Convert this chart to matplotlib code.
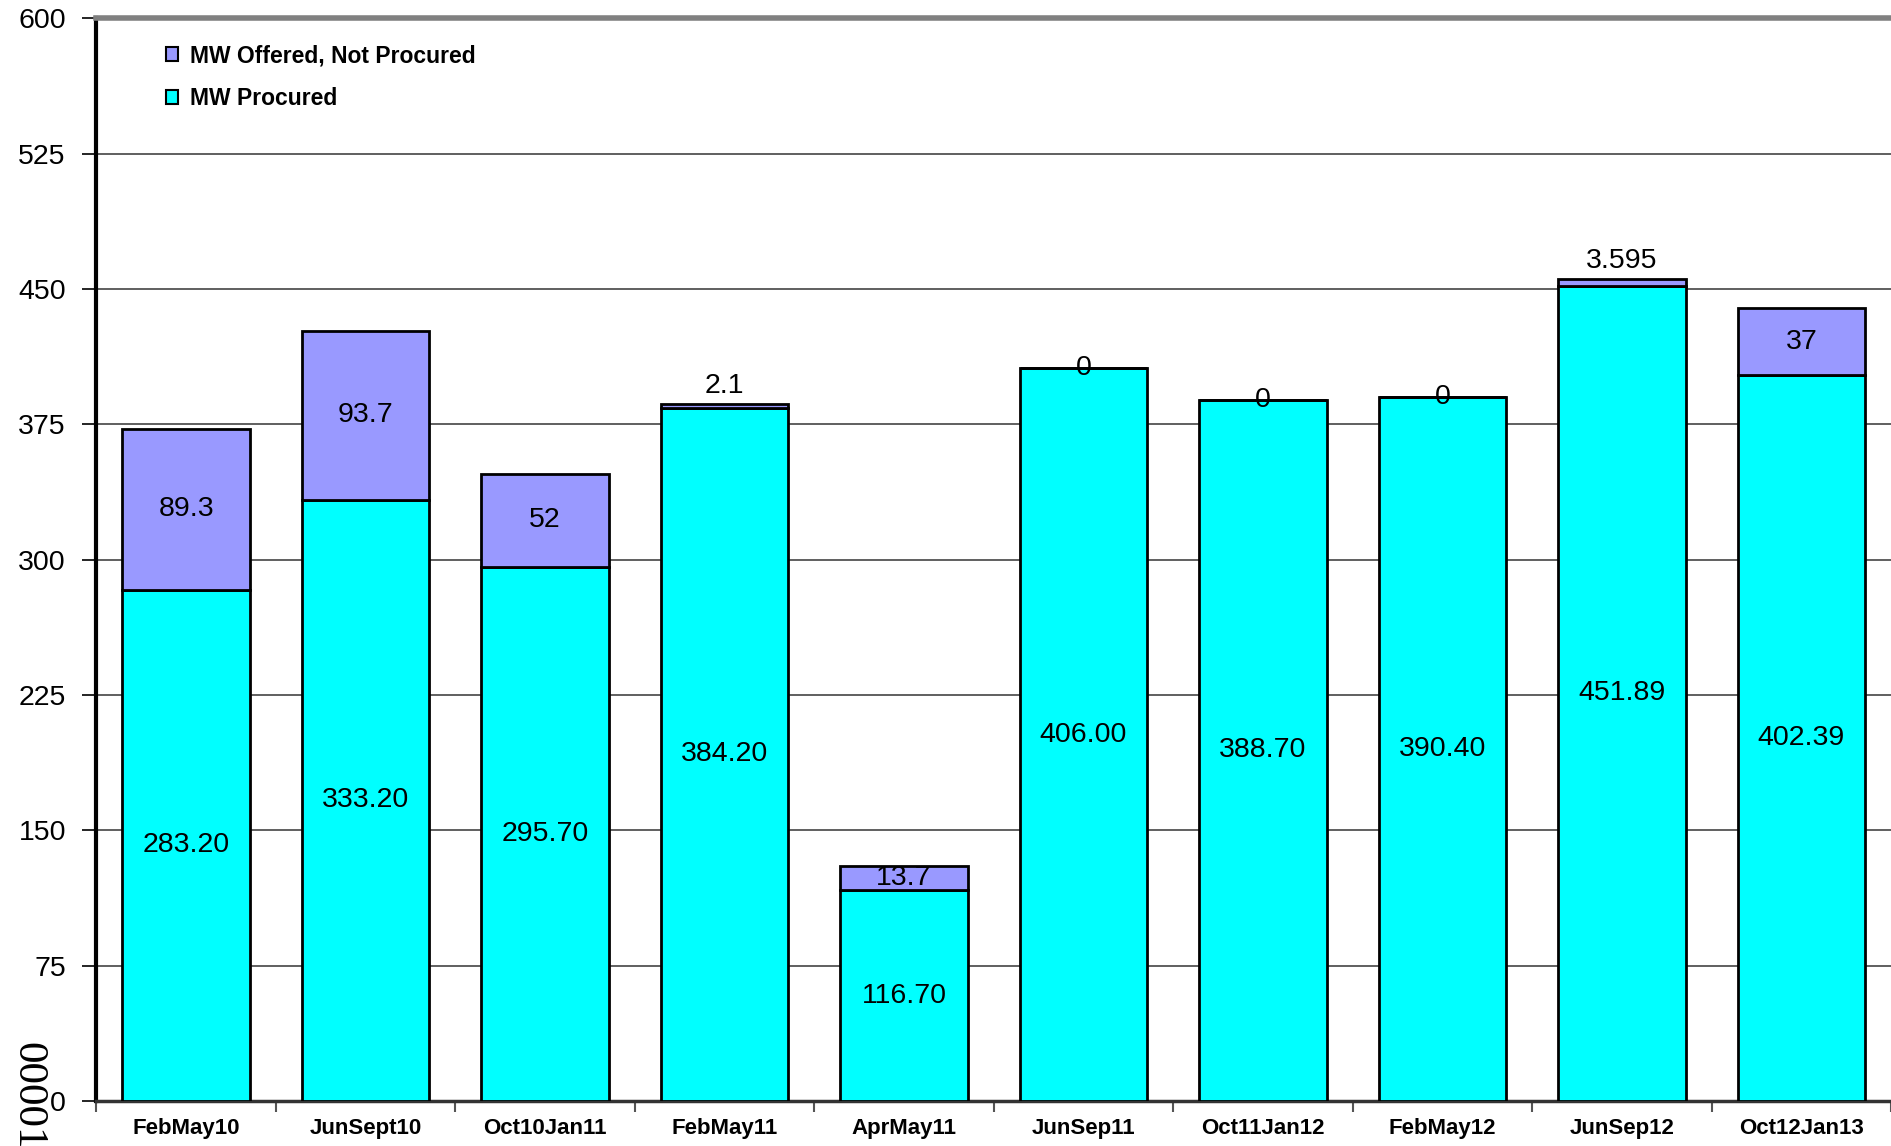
import matplotlib
matplotlib.use("Agg")
import matplotlib.pyplot as plt
import numpy as np

plt.rcParams['font.family'] = ['Liberation Sans', 'DejaVu Sans']

periods = ['FebMay10', 'JunSept10', 'Oct10Jan11', 'FebMay11', 'AprMay11',
           'JunSep11', 'Oct11Jan12', 'FebMay12', 'JunSep12', 'Oct12Jan13']
procured = [283.20, 333.20, 295.70, 384.20, 116.70,
            406.00, 388.70, 390.40, 451.89, 402.39]
not_procured = [89.3, 93.7, 52, 2.1, 13.7, 0, 0, 0, 3.595, 37]
procured_labels = ['283.20', '333.20', '295.70', '384.20', '116.70',
                   '406.00', '388.70', '390.40', '451.89', '402.39']
not_procured_labels = ['89.3', '93.7', '52', '2.1', '13.7', '0', '0', '0', '3.595', '37']

fig = plt.figure(figsize=(18.91, 11.46), dpi=100)
ax = fig.add_axes([0.051, 0.0393, 0.949, 0.9447])

x = np.arange(len(periods))
w = 0.71
b1 = ax.bar(x, procured, w, color='#00FFFF', edgecolor='black', linewidth=2,
            label='MW Procured', zorder=3)
b2 = ax.bar(x, not_procured, w, bottom=procured, color='#9999FF', edgecolor='black',
            linewidth=2, label='MW Offered, Not Procured', zorder=3)

# value labels: centred in each segment, tiny slivers get theirs above the bar
for i in range(len(periods)):
    ax.text(x[i], procured[i] / 2, procured_labels[i], ha='center', va='center',
            fontsize=20.5, zorder=4)
    v = not_procured[i]
    top = procured[i] + v
    if 0 < v < 5:
        ypos = top + 10
    else:
        ypos = procured[i] + v / 2
    ax.text(x[i], ypos, not_procured_labels[i], ha='center', va='center',
            fontsize=20.5, zorder=4)

ax.set_xlim(-0.5, len(periods) - 0.5)
ax.set_ylim(0, 600)
ax.set_yticks(np.arange(0, 601, 75))
ax.yaxis.grid(True, color='#444444', linewidth=1.2, zorder=0)
ax.tick_params(axis='y', labelsize=20.5, length=10, width=1.2, color='black', pad=12)

ax.set_xticks(x)
ax.set_xticklabels(periods, fontsize=16, fontweight='bold')
ax.set_xticks(np.arange(-0.5, len(periods), 1), minor=True)
ax.tick_params(axis='x', which='major', length=0, pad=12)
ax.tick_params(axis='x', which='minor', length=8, width=1.5, color='#555555')

ax.spines['left'].set_linewidth(3)
ax.spines['left'].set_color('black')
ax.spines['bottom'].set_linewidth(2.5)
ax.spines['bottom'].set_color('#333333')
ax.spines['top'].set_linewidth(4)
ax.spines['top'].set_color('#808080')
ax.spines['right'].set_visible(False)

handles = [b2, b1]
leg = ax.legend(handles, [h.get_label() for h in handles], loc='upper left',
                bbox_to_anchor=(0.027, 0.995), frameon=False,
                prop={'weight': 'bold', 'size': 16.5}, handlelength=0.55,
                handleheight=0.55, handletextpad=0.5, labelspacing=0.85)
for p in leg.get_patches():
    p.set_linewidth(1.5)

fig.text(28 / 1891, 1 - 1042 / 1146, '000013', rotation=-90, ha='center', va='top',
         fontsize=31, family='Liberation Serif')

fig.savefig('out.png', dpi=100)
